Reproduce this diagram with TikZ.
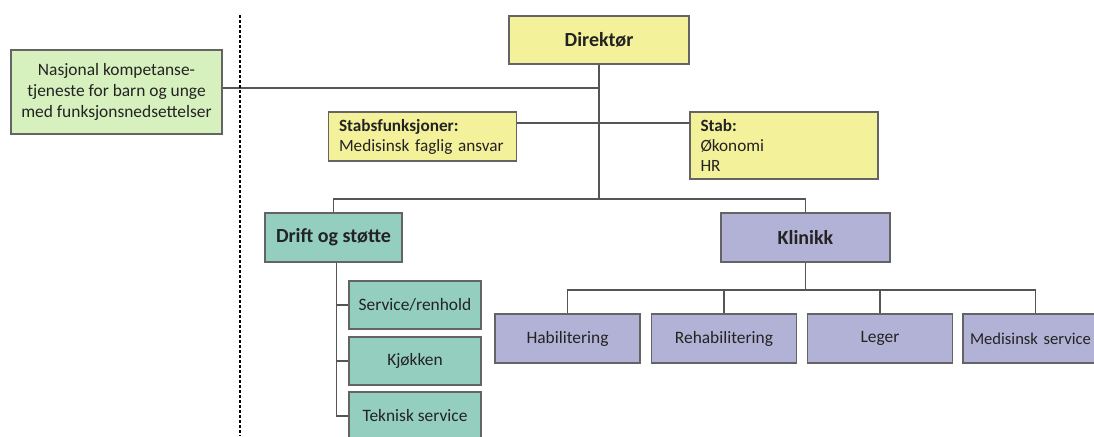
\documentclass[tikz,border=0pt]{standalone}
\usepackage{fontspec}
\setmainfont{Carlito}

\definecolor{boxyellow}{RGB}{244,241,155}
\definecolor{boxgreen}{RGB}{214,240,190}
\definecolor{boxteal}{RGB}{147,206,190}
\definecolor{boxpurple}{RGB}{178,178,214}
\definecolor{boxedge}{RGB}{100,100,100}
\definecolor{linegray}{RGB}{85,85,85}
\definecolor{textgray}{RGB}{35,35,35}

\begin{document}
\begin{tikzpicture}[
          x=0.5pt, y=-0.5pt,
          every node/.style={
            draw=boxedge,
            line width=0.9pt,
            rectangle,
            text=textgray,
            inner sep=0pt,
            font=\fontsize{8.7}{10.5}\selectfont,
          },
          head/.style={font=\bfseries\fontsize{10}{12}\selectfont},
          yellowbox/.style={fill=boxyellow},
          greenbox/.style={fill=boxgreen},
          tealbox/.style={fill=boxteal, minimum width=66pt, minimum height=24pt},
          purplebox/.style={fill=boxpurple, minimum width=72.5pt, minimum height=24.5pt},
          stabbox/.style={yellowbox, align=left, inner xsep=5.25pt, text width=83.5pt,
            font=\fontsize{8.6}{10}\selectfont},
          link/.style={draw=linegray, line width=0.7pt},
        ]
        \clip (0,0) rectangle (1094,436) ;
        % left unit and director
        \node[greenbox, minimum width=105.5pt, minimum height=42pt, align=center]
          at (116.5,92) (nasjonal) {Nasjonal kompetanse-\\tjeneste for barn og unge\\med funksjonsnedsettelser} ;
        \node[yellowbox, head, minimum width=90pt, minimum height=24pt] at (599,40) (direktor) {Direktør} ;
        \node[stabbox, minimum height=24.5pt] at (422.5,136.5) (stabsf) {\textbf{Stabsfunksjoner:}\\Medisinsk faglig ansvar} ;
        \node[stabbox, minimum height=33.5pt] at (784,145.5) (stab) {\textbf{Stab:}\\Økonomi\\HR} ;
        % divisions
        \node[tealbox, head, minimum width=68.5pt, minimum height=24.5pt] at (333.5,237.5) (drift) {Drift og støtte} ;
        \node[fill=boxpurple, head, minimum width=84.5pt, minimum height=24.5pt] at (805.5,237.5) (klinikk) {Klinikk} ;
        \node[tealbox] at (415,305) (service) {Service/renhold} ;
        \node[tealbox] at (415,361) (kjokken) {Kjøkken} ;
        \node[tealbox] at (415,416) (teknisk) {Teknisk service} ;
        \node[purplebox] at (567.5,338.5) (habil) {Habilitering} ;
        \node[purplebox] at (724,338.5) (rehab) {Rehabilitering} ;
        \node[purplebox] at (880,338.5) (leger) {Leger} ;
        \node[purplebox, align=left, inner xsep=3.5pt, text width=65.5pt,
          font=\fontsize{8.3}{10}\selectfont] at (1035.5,338.5) (medis) {\mbox{Medisinsk service}} ;
        % connectors
        \coordinate (njoin) at (599,88) ;
        \coordinate (stabline) at (599,123) ;
        \coordinate (bus) at (599,199) ;
        \coordinate (klinbus) at (805.5,290) ;
        \draw[link] (direktor) -- (bus) ;
        \draw[link] (nasjonal.east |- njoin) -- (njoin) ;
        \draw[link] (stabsf.east |- stabline) -- (stab.west |- stabline) ;
        \draw[link] (drift.north) |- (bus) -| (klinikk.north) ;
        \draw[link] (klinikk) -- (klinbus) ;
        \foreach \n in {habil,rehab,leger,medis}
          \draw[link] (klinbus) -| (\n.north) ;
        \foreach \n in {service,kjokken,teknisk}
          \draw[link] ([xshift=1.5pt]drift.south) |- (\n.west) ;
        % border of the national service
        \draw[line width=1.4pt, dash pattern=on 1.5pt off 1pt] (240,15) -- (240,436) ;
        \end{tikzpicture}
\end{document}
